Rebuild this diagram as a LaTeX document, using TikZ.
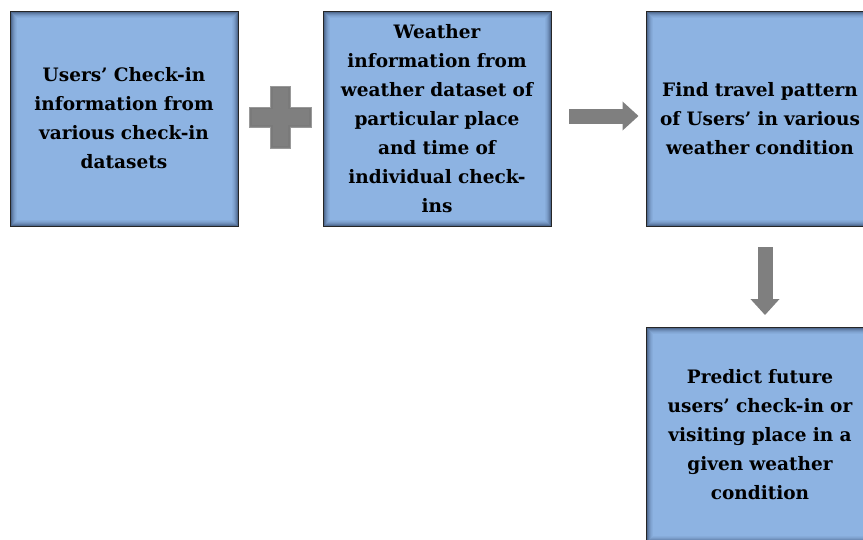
\documentclass[tikz,border=0pt]{standalone}
\usepackage{fontspec}
\setmainfont{DejaVu Serif}
\usetikzlibrary{arrows.meta,calc}
\definecolor{boxblue}{HTML}{8DB3E2}
\definecolor{shadowblue}{HTML}{1F3050}
\definecolor{arrowgray}{HTML}{7F7F7F}
\tikzset{
  stepbox/.style={draw=black!85, line width=0.9pt, fill=boxblue,
    minimum width=228pt, minimum height=215pt, inner sep=0pt,
    align=center, text width=222pt,
    font=\fontsize{18.5}{29}\selectfont\bfseries, text=black,
    path picture={
      \foreach \i/\o in {1/0.55,2/0.4,3/0.28,4/0.18,5/0.1,6/0.05}
        \draw[shadowblue, opacity=\o, line width=1pt]
          ([shift={(\i pt,-\i pt)}]path picture bounding box.north west) rectangle
          ([shift={(-\i pt,\i pt)}]path picture bounding box.south east);
    }},
  blockarrow/.style={arrowgray, line width=15pt,
    -{Triangle[length=16pt,width=28pt]}},
  plusshape/.style={fill=arrowgray, draw=black!40, line width=0.6pt}
}
\begin{document}
\begin{tikzpicture}[x=1pt,y=-1pt]
\useasboundingbox (0,0) rectangle (863,539);
\clip (0,0) rectangle (863,539);
\node[stepbox] (b1) at (124,118.5) {Users’ Check-in\\information from\\various check-in\\datasets};
\node[stepbox] (b2) at (437,118.5) {Weather\\information from\\weather dataset of\\particular place\\and time of\\individual check-\\ins};
\node[stepbox] (b3) at (760,118.5) {Find travel pattern\\of Users’ in various\\weather condition};
\node[stepbox] (b4) at (760,435) {Predict future\\users’ check-in or\\visiting place in a\\given weather\\condition};
% plus sign
\coordinate (plus) at (280.5,117);
\path[plusshape]
  ($(plus)+(-10,-31)$) -- ($(plus)+(10,-31)$) -- ($(plus)+(10,-10)$) -- ($(plus)+(31,-10)$)
  -- ($(plus)+(31,10)$) -- ($(plus)+(10,10)$) -- ($(plus)+(10,31)$) -- ($(plus)+(-10,31)$)
  -- ($(plus)+(-10,10)$) -- ($(plus)+(-31,10)$) -- ($(plus)+(-31,-10)$) -- ($(plus)+(-10,-10)$) -- cycle;
\draw[black!55, opacity=0.35, line width=1.2pt]
  ($(plus)+(-8.5,-29.5)$) -- ($(plus)+(8.5,-29.5)$) -- ($(plus)+(8.5,-8.5)$) -- ($(plus)+(29.5,-8.5)$)
  -- ($(plus)+(29.5,8.5)$) -- ($(plus)+(8.5,8.5)$) -- ($(plus)+(8.5,29.5)$) -- ($(plus)+(-8.5,29.5)$)
  -- ($(plus)+(-8.5,8.5)$) -- ($(plus)+(-29.5,8.5)$) -- ($(plus)+(-29.5,-8.5)$) -- ($(plus)+(-8.5,-8.5)$) -- cycle;
% arrows
\draw[blockarrow, shorten <=18pt, shorten >=7pt] ([yshift=2.5pt]b2.east) -- ([yshift=2.5pt]b3.west);
\draw[blockarrow, shorten <=21pt, shorten >=12pt] ([xshift=5pt]b3.south) -- ([xshift=5pt]b4.north);
\end{tikzpicture}
\end{document}
